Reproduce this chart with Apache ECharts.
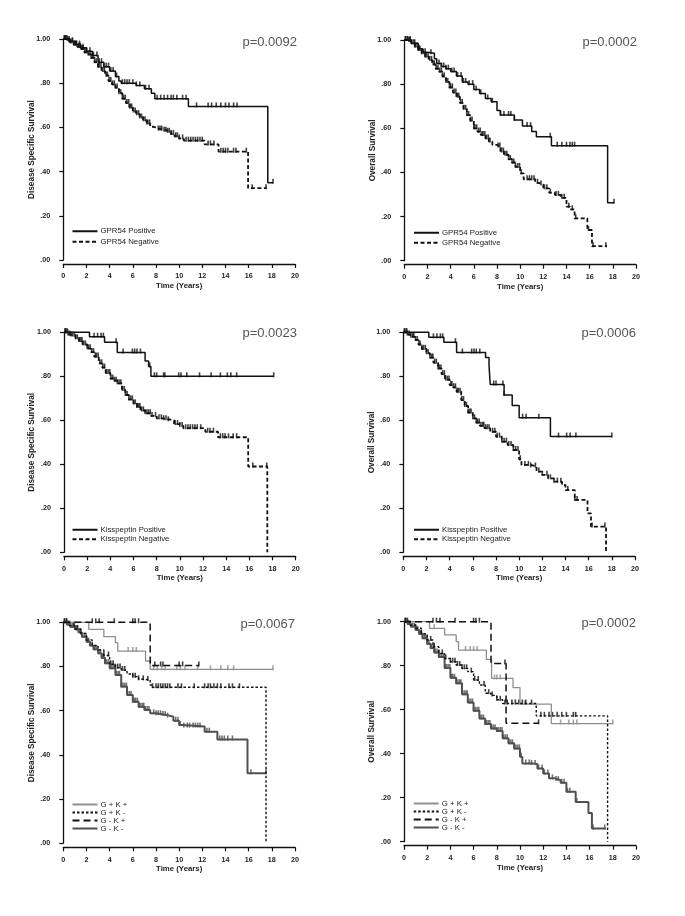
<!DOCTYPE html>
<html><head><meta charset="utf-8">
<script src="https://cdn.jsdelivr.net/npm/echarts@6/dist/echarts.min.js"></script>
<style>html,body{margin:0;padding:0;background:#fff}#c{width:685px;height:916px}</style>
</head><body><div id="c"></div><script>
// ---------- tick labels ----------
const xTickValues = [0,2,4,6,8,10,12,14,16,18,20];
const yTickLabels = ['.00','.20','.40','.60','.80','1.00'];
const xAxisTitle = 'Time (Years)';
const yTitles = ['Disease Specific Survival','Overall Survival','Disease Specific Survival','Overall Survival','Disease Specific Survival','Overall Survival'];
const pValues = ['p=0.0092','p=0.0002','p=0.0023','p=0.0006','p=0.0067','p=0.0002'];

// ---------- Panel 1: DSS, GPR54 ----------
const p1PosT = [0,0.5,1.0,1.5,2.0,2.5,3.0,3.5,4.0,4.5,4.8,5.0,6.3,7.0,7.6,7.9,10.8,17.65,18.1];
const p1PosS = [1,.99,.975,.96,.945,.925,.895,.875,.855,.83,.81,.80,.79,.775,.755,.73,.695,.35,.35];
const p1PosC = [0.1,0.3,0.5,0.8,1.1,1.4,1.7,2.0,2.3,2.6,2.9,3.1,3.3,3.5,3.7,3.9,4.1,4.3,4.6,5.1,5.3,5.5,5.7,6.0,6.3,6.6,7.1,7.4,8.1,8.4,8.7,9.0,9.3,9.5,9.8,10.3,10.6,11.5,12.5,12.8,13.2,13.6,14.0,14.3,14.7,15.0,18.1];
const p1NegT = [0,0.3,0.6,0.9,1.2,1.5,1.8,2.1,2.4,2.7,3.0,3.3,3.6,3.9,4.2,4.5,4.8,5.1,5.4,5.7,6.0,6.3,6.6,6.9,7.2,7.5,7.8,8.2,8.6,9.0,9.3,9.6,10.0,10.4,12.2,13.4,15.95,17.55];
const p1NegS = [1,.995,.985,.975,.965,.955,.94,.93,.915,.895,.875,.855,.835,.81,.795,.78,.755,.73,.71,.69,.672,.66,.645,.632,.618,.603,.595,.59,.585,.58,.57,.56,.55,.54,.523,.49,.325,.325];
const p1NegC = [0.1,0.2,0.35,0.5,0.6,0.75,0.9,1.05,1.15,1.3,1.45,1.6,1.7,1.85,2.0,2.15,2.3,2.4,2.55,2.7,2.85,3.0,3.1,3.25,3.4,3.55,3.7,3.8,3.95,4.1,4.25,4.4,4.5,4.65,4.8,4.95,5.1,5.2,5.35,5.5,5.65,5.8,5.9,6.05,6.2,6.35,6.5,6.6,6.75,6.9,7.05,7.2,7.3,7.45,8.2,8.35,8.5,8.7,8.85,9.0,9.15,9.3,9.5,9.7,9.85,10.0,10.3,10.6,10.8,11.0,11.2,11.4,11.6,11.8,12.0,12.5,12.7,13.0,13.6,13.8,14.0,14.2,14.7,14.9,15.8,16.3,17.5];

// ---------- Panel 2: OS, GPR54 ----------
const p2PosT = [0,0.6,1.2,1.6,2.0,2.6,2.8,3.2,3.6,4.0,4.5,5.0,5.5,6.0,6.5,7.0,7.5,8.0,8.3,9.5,10.2,11.0,11.4,12.7,17.55,18.1];
const p2PosS = [1,.985,.96,.945,.94,.915,.894,.88,.87,.857,.837,.81,.80,.776,.758,.735,.72,.68,.66,.637,.61,.585,.562,.521,.263,.263];
const p2PosC = [0.1,0.3,0.5,0.9,1.3,1.8,2.3,3.0,3.2,3.4,3.6,3.8,4.1,4.3,4.6,4.9,5.1,5.3,5.6,5.9,6.2,6.6,7.2,7.6,8.3,8.6,9.0,9.2,9.5,10.6,10.9,12.6,13.2,13.6,14.0,14.3,14.5,14.7,18.1];
const p2NegT = [0,0.3,0.6,0.9,1.2,1.5,1.8,2.1,2.4,2.7,3.0,3.3,3.6,3.9,4.2,4.5,4.8,5.1,5.4,5.7,6.0,6.3,6.6,7.0,7.3,7.6,8.0,8.3,8.6,9.0,9.3,9.6,10.0,10.3,11.3,11.6,12.0,12.5,13.0,13.5,14.0,14.3,14.7,15.8,16.2,17.5];
const p2NegS = [1,.995,.985,.97,.955,.94,.925,.91,.89,.87,.857,.835,.81,.785,.762,.743,.715,.688,.66,.635,.60,.585,.57,.554,.54,.525,.517,.495,.48,.46,.445,.425,.396,.369,.353,.345,.328,.308,.298,.285,.245,.233,.192,.139,.066,.066];
const p2NegC = [0.1,0.25,0.4,0.5,0.65,0.8,0.95,1.1,1.2,1.35,1.5,1.65,1.8,1.9,2.05,2.2,2.35,2.5,2.6,2.75,2.9,3.05,3.2,3.3,3.45,3.6,3.75,3.9,4.0,4.15,4.3,4.45,4.6,4.7,4.85,5.0,5.15,5.3,5.4,5.55,5.7,5.85,6.0,6.1,6.25,6.4,6.55,6.7,6.8,6.95,7.1,7.25,7.4,8.1,8.25,8.4,8.55,8.7,8.85,9.0,9.15,9.3,9.45,9.6,9.8,9.95,10.1,10.6,10.8,11.0,11.2,11.5,11.8,12.1,12.3,12.6,13.1,13.3,13.6,13.8,14.2,14.5,14.8,15.9,16.3,17.4];

// ---------- Panel 3: DSS, Kisspeptin ----------
const p3PosT = [0,2.2,3.5,4.6,7.0,7.3,7.5,18.1];
const p3PosS = [1,.98,.955,.908,.87,.845,.80,.80];
const p3PosC = [0.1,0.3,2.6,2.9,3.2,3.4,4.5,5.1,5.9,6.1,6.3,6.6,7.4,7.8,8.0,8.6,8.7,9.9,10.1,10.6,11.7,12.7,13.5,14.1,14.4,14.9,18.1];
const p3NegT = [0,0.3,0.6,1.0,1.3,1.6,2.0,2.3,2.6,3.0,3.3,3.6,4.0,4.3,4.6,5.0,5.3,5.6,6.0,6.3,6.6,7.0,7.5,8.0,8.5,9.0,9.5,10.0,10.3,12.2,13.3,15.9,17.55];
const p3NegS = [1,.99,.985,.973,.96,.945,.927,.91,.89,.859,.84,.815,.79,.78,.768,.738,.715,.695,.677,.66,.645,.632,.62,.609,.605,.60,.583,.574,.564,.548,.523,.39,0];
const p3NegC = [0.1,0.2,0.35,0.5,0.6,0.75,0.9,1.0,1.15,1.3,1.45,1.55,1.7,1.85,2.0,2.1,2.25,2.4,2.55,2.7,2.8,2.95,3.1,3.25,3.35,3.5,3.65,3.8,3.95,4.05,4.2,4.35,4.5,4.6,4.75,4.9,5.05,5.2,5.3,5.45,5.6,5.75,5.9,6.0,6.15,6.3,6.45,6.55,6.7,6.85,7.0,7.15,7.3,7.45,7.6,7.9,8.2,8.4,8.6,8.8,9.0,9.6,9.8,10.0,10.2,10.5,10.7,10.9,11.1,11.3,11.5,11.8,12.4,12.6,12.9,13.5,13.7,13.9,14.2,14.6,14.9,16.3,17.5];

// ---------- Panel 4: OS, Kisspeptin ----------
const p4PosT = [0,2.2,3.5,4.6,7.1,7.4,7.5,8.7,9.4,10.0,12.7,18.0];
const p4PosS = [1,.977,.955,.908,.886,.85,.763,.715,.667,.612,.526,.526];
const p4PosC = [0.1,0.3,2.6,2.9,3.2,3.4,4.5,5.1,5.9,6.1,6.3,6.6,7.8,8.0,8.6,8.7,10.3,10.6,11.7,13.4,14.1,14.4,14.9,18.0];
const p4NegT = [0,0.3,0.6,1.0,1.3,1.6,2.0,2.3,2.6,3.0,3.3,3.6,4.0,4.3,4.6,5.0,5.3,5.6,6.0,6.3,6.6,7.0,7.5,8.0,8.5,9.0,9.5,10.0,10.2,11.0,11.5,12.0,12.5,13.0,13.7,14.0,14.8,15.9,16.2,17.5];
const p4NegS = [1,.99,.98,.965,.945,.925,.905,.885,.862,.836,.81,.785,.76,.75,.73,.692,.665,.635,.609,.59,.575,.564,.548,.526,.503,.488,.465,.423,.397,.39,.367,.352,.336,.321,.306,.283,.238,.177,.117,0];
const p4NegC = [0.1,0.25,0.35,0.5,0.65,0.8,0.9,1.05,1.2,1.35,1.45,1.6,1.75,1.9,2.0,2.15,2.3,2.45,2.55,2.7,2.85,3.0,3.1,3.25,3.4,3.55,3.65,3.8,3.95,4.1,4.2,4.35,4.5,4.65,4.75,4.9,5.05,5.2,5.3,5.45,5.6,5.75,5.85,6.0,6.15,6.3,6.4,6.55,6.7,6.85,6.95,7.1,7.25,7.4,7.7,7.9,8.1,8.3,8.5,8.7,8.9,9.1,9.3,9.5,9.7,9.9,10.1,10.5,10.8,11.0,11.4,11.7,12.0,12.4,12.7,13.0,13.3,13.6,14.2,14.8,15.0,16.3,17.4];

// ---------- Panel 5: DSS, combinations ----------
const p5GpKpT = [0,2.2,3.5,4.5,4.7,7.1,7.5,18.1];
const p5GpKpS = [1,.968,.935,.908,.87,.825,.787,.787];
const p5GpKpC = [5.6,6.0,6.3,7.8,8.1,8.5,8.8,9.8,10.1,10.5,11.6,12.7,13.6,14.2,14.7,18.1];
const p5GpKmT = [0,0.5,1.0,1.5,2.0,2.5,3.0,3.5,4.0,4.5,5.0,5.5,6.0,6.5,7.0,7.5,7.7,17.5];
const p5GpKmS = [1,.985,.97,.95,.92,.895,.875,.85,.81,.795,.784,.766,.754,.742,.739,.716,.706,0];
const p5GpKmC = [0.9,1.2,1.5,2.0,3.5,3.9,4.1,4.3,4.5,4.7,4.9,5.1,5.3,6.0,6.2,6.5,6.9,7.3,7.7,8.0,8.2,8.4,8.6,8.8,9.0,9.2,9.9,10.2,11.3,12.2,12.5,12.7,13.0,13.3,13.6,14.3,14.6,15.2];
const p5GmKpT = [0,7.5,11.7];
const p5GmKpS = [1,.805,.805];
const p5GmKpC = [0.1,0.3,2.5,2.8,3.1,4.4,6.0,6.2,6.5,7.9,8.4,8.6,10.0,10.3,11.7];
const p5GmKmT = [0,0.3,0.6,1.0,1.3,1.6,2.0,2.3,2.6,3.0,3.3,3.6,4.0,4.5,5.0,5.5,6.0,6.5,7.0,7.5,8.0,8.5,9.0,9.5,10.0,10.3,12.2,13.3,15.9,17.5];
const p5GmKmS = [1,.99,.98,.968,.955,.935,.912,.895,.878,.86,.84,.815,.792,.762,.709,.671,.641,.618,.603,.588,.584,.58,.573,.555,.535,.528,.505,.47,.317,.317];
const p5GmKmC = [0.1,0.25,0.4,0.55,0.65,0.8,0.95,1.1,1.25,1.35,1.5,1.65,1.8,1.95,2.05,2.2,2.35,2.5,2.65,2.75,2.9,3.05,3.2,3.35,3.45,3.6,3.75,3.9,4.05,4.15,4.3,4.45,4.6,4.75,4.85,5.0,5.15,5.3,5.45,5.55,5.7,5.85,6.0,6.15,6.25,6.4,6.55,6.7,6.85,6.95,7.1,7.25,7.4,7.8,8.0,8.2,8.4,8.6,8.8,9.0,9.7,9.9,10.1,10.4,10.7,10.9,11.2,11.4,11.6,11.8,12.4,12.6,13.5,13.7,13.9,14.2,14.6,16.2,17.5];

// ---------- Panel 6: OS, combinations ----------
const p6GpKpT = [0,2.2,3.5,4.5,4.7,7.1,7.55,9.4,10.0,12.7,18.0];
const p6GpKpS = [1,.97,.94,.909,.871,.829,.742,.70,.625,.537,.537];
const p6GpKpC = [2.6,5.3,5.7,6.0,6.3,7.8,8.0,8.3,10.4,13.5,14.2,14.6,14.9,18.0];
const p6GpKmT = [0,0.5,1.0,1.5,2.0,2.5,3.0,3.5,4.0,4.5,5.0,5.5,6.0,6.5,7.0,7.5,8.0,8.5,11.4,17.55];
const p6GpKmS = [1,.985,.97,.945,.917,.886,.856,.833,.818,.803,.788,.773,.735,.712,.675,.665,.645,.628,.572,0];
const p6GpKmC = [1.0,1.5,2.0,2.3,2.6,3.0,3.3,3.6,4.0,4.2,4.4,4.6,4.8,5.0,5.2,5.4,5.8,6.1,6.4,6.9,7.3,7.6,8.0,8.3,8.7,8.9,9.3,9.6,9.9,10.2,10.5,11.0,11.8,12.1,12.5,12.8,13.2,13.6,14.0,14.6,14.8];
const p6GmKpT = [0,7.5,8.8,11.6];
const p6GmKpS = [1,.81,.538,.538];
const p6GmKpC = [0.1,0.3,2.5,2.8,3.1,4.4,6.0,6.2,6.5,8.7,11.6];
const p6GmKmT = [0,0.3,0.6,1.0,1.3,1.6,2.0,2.3,2.6,3.0,3.5,4.0,4.5,5.0,5.5,6.0,6.5,7.0,7.5,8.0,8.5,9.0,9.5,10.0,10.2,11.0,11.5,12.0,12.5,13.0,13.5,14.0,14.8,15.9,16.2,17.4];
const p6GmKmS = [1,.99,.978,.962,.945,.925,.9,.88,.86,.84,.79,.745,.72,.67,.633,.595,.56,.535,.515,.503,.47,.447,.424,.386,.356,.353,.333,.31,.288,.28,.268,.227,.18,.13,.06,.06];
const p6GmKmC = [0.1,0.2,0.35,0.5,0.6,0.75,0.9,1.05,1.2,1.3,1.45,1.6,1.75,1.85,2.0,2.15,2.3,2.4,2.55,2.7,2.85,3.0,3.1,3.25,3.4,3.55,3.65,3.8,3.95,4.1,4.2,4.35,4.5,4.65,4.8,4.9,5.05,5.2,5.35,5.45,5.6,5.75,5.9,6.0,6.15,6.3,6.45,6.55,6.7,6.85,7.0,7.1,7.25,7.4,7.55,7.7,7.85,8.0,8.15,8.3,8.45,8.6,8.75,8.9,9.05,9.2,9.35,9.5,9.65,9.8,9.95,10.1,10.5,10.8,11.0,11.3,11.6,11.9,12.1,12.4,12.8,13.1,13.3,13.6,13.8,14.1,14.3,14.9,16.3,17.3];

// ---------- styling ----------
const FONT = "'Liberation Sans', Arial, Helvetica, sans-serif";
const BLACK = '#111';
const GRAY = '#8e8e8e';
const DGRAY = '#505050';

const panels = [
  {grid:{left:63.3,top:39,width:231.7,height:221}, p:{right:388,top:36},
   legend:{left:71.5,top:227,gap:2,lh:8.5},
   curves:[
     {name:'GPR54 Negative',t:p1NegT,s:p1NegS,c:p1NegC,color:BLACK,w:1.8,dash:[4,2.5]},
     {name:'GPR54 Positive',t:p1PosT,s:p1PosS,c:p1PosC,color:BLACK,w:1.5,dash:'solid'}],
   order:['GPR54 Positive','GPR54 Negative']},
  {grid:{left:404.3,top:40,width:231.7,height:220.7}, p:{right:48,top:36},
   legend:{left:413,top:228.5,gap:1.5,lh:8.5},
   curves:[
     {name:'GPR54 Negative',t:p2NegT,s:p2NegS,c:p2NegC,color:BLACK,w:1.8,dash:[4,2.5]},
     {name:'GPR54 Positive',t:p2PosT,s:p2PosS,c:p2PosC,color:BLACK,w:1.5,dash:'solid'}],
   order:['GPR54 Positive','GPR54 Negative']},
  {grid:{left:64,top:332.3,width:231.7,height:220}, p:{right:388,top:327},
   legend:{left:71.5,top:525.5,gap:1,lh:8.5},
   curves:[
     {name:'Kisspeptin Negative',t:p3NegT,s:p3NegS,c:p3NegC,color:BLACK,w:1.8,dash:[4,2.5]},
     {name:'Kisspeptin Positive',t:p3PosT,s:p3PosS,c:p3PosC,color:BLACK,w:1.5,dash:'solid'}],
   order:['Kisspeptin Positive','Kisspeptin Negative']},
  {grid:{left:403.3,top:332.3,width:231.7,height:220}, p:{right:49,top:327},
   legend:{left:413,top:525.5,gap:1,lh:8.5},
   curves:[
     {name:'Kisspeptin Negative',t:p4NegT,s:p4NegS,c:p4NegC,color:BLACK,w:1.8,dash:[4,2.5]},
     {name:'Kisspeptin Positive',t:p4PosT,s:p4PosS,c:p4PosC,color:BLACK,w:1.5,dash:'solid'}],
   order:['Kisspeptin Positive','Kisspeptin Negative']},
  {grid:{left:63.3,top:622.3,width:231.7,height:221}, p:{right:390,top:618},
   legend:{left:71.5,top:800.5,gap:0,lh:7.3},
   curves:[
     {name:'G - K -',t:p5GmKmT,s:p5GmKmS,c:p5GmKmC,color:DGRAY,w:2.0,dash:'solid'},
     {name:'G + K +',t:p5GpKpT,s:p5GpKpS,c:p5GpKpC,color:GRAY,w:1.3,dash:'solid'},
     {name:'G + K -',t:p5GpKmT,s:p5GpKmS,c:p5GpKmC,color:BLACK,w:1.4,dash:[2.5,2]},
     {name:'G - K +',t:p5GmKpT,s:p5GmKpS,c:p5GmKpC,color:BLACK,w:1.5,dash:[7,4]}],
   order:['G + K +','G + K -','G - K +','G - K -']},
  {grid:{left:404,top:621.7,width:232,height:220}, p:{right:49,top:617},
   legend:{left:412.7,top:799.5,gap:0,lh:7.3},
   curves:[
     {name:'G - K -',t:p6GmKmT,s:p6GmKmS,c:p6GmKmC,color:DGRAY,w:2.0,dash:'solid'},
     {name:'G + K +',t:p6GpKpT,s:p6GpKpS,c:p6GpKpC,color:GRAY,w:1.3,dash:'solid'},
     {name:'G + K -',t:p6GpKmT,s:p6GpKmS,c:p6GpKmC,color:BLACK,w:1.4,dash:[2.5,2]},
     {name:'G - K +',t:p6GmKpT,s:p6GmKpS,c:p6GmKpC,color:BLACK,w:1.5,dash:[7,4]}],
   order:['G + K +','G + K -','G - K +','G - K -']}
];

function survAt(t, s, x) {
  let v = s[0];
  for (let i = 0; i < t.length; i++) { if (t[i] <= x) v = s[i]; else break; }
  return v;
}

const grids = [], xAxes = [], yAxes = [], series = [], titles = [], legends = [];
panels.forEach((pn, k) => {
  grids.push(Object.assign({containLabel:false}, pn.grid));
  xAxes.push({type:'value', gridIndex:k, min:xTickValues[0], max:xTickValues[xTickValues.length-1], interval:2,
    offset:4, name:xAxisTitle, nameLocation:'middle', nameGap:18, nameMoveOverlap:false,
    nameTextStyle:{fontFamily:FONT, fontWeight:'bold', fontSize:7.8, color:'#222'},
    axisLine:{show:true, onZero:false, lineStyle:{color:BLACK, width:1.3}},
    axisTick:{show:true, length:4, inside:false, lineStyle:{color:BLACK, width:1.2}},
    axisLabel:{fontFamily:FONT, fontWeight:'bold', fontSize:7.2, color:'#222', margin:9},
    splitLine:{show:false}});
  yAxes.push({type:'value', gridIndex:k, min:0, max:1, interval:0.2, offset:4,
    name:yTitles[k], nameLocation:'middle', nameGap:24, nameMoveOverlap:false,
    nameTextStyle:{fontFamily:FONT, fontWeight:'bold', fontSize:8.2, color:'#222'},
    axisLine:{show:true, lineStyle:{color:BLACK, width:1.3}},
    axisTick:{show:true, length:4, inside:false, lineStyle:{color:BLACK, width:1.2}},
    axisLabel:{fontFamily:FONT, fontWeight:'bold', fontSize:7.2, color:'#222', margin:9,
      formatter:(v)=>yTickLabels[Math.round(v/0.2)]},
    splitLine:{show:false}});
  titles.push({text:pValues[k], right:pn.p.right, top:pn.p.top, padding:0,
    textStyle:{fontFamily:FONT, fontWeight:'normal', fontSize:13, color:'#555'}});
  pn.curves.forEach(cv => {
    series.push({type:'line', name:cv.name, xAxisIndex:k, yAxisIndex:k, step:'end',
      symbol:'none', showSymbol:false, clip:false, animation:false, silent:true,
      data:cv.t.map((x,i)=>[x, cv.s[i]]),
      lineStyle:{color:cv.color, width:cv.w, type:cv.dash, cap:'butt'},
      itemStyle:{color:cv.color}});
    series.push({type:'scatter', name:cv.name + ' censored', xAxisIndex:k, yAxisIndex:k,
      symbol:'rect', symbolSize:[1.6,5], symbolOffset:[0,-1.5], clip:false, animation:false, silent:true,
      data:cv.c.map(x=>[x, survAt(cv.t, cv.s, x)]),
      itemStyle:{color:cv.color}});
  });
  legends.push({orient:'vertical', left:pn.legend.left, top:pn.legend.top, padding:0,
    itemGap:pn.legend.gap, itemWidth:25, itemHeight:6, selectedMode:false,
    itemStyle:{opacity:0},
    data:pn.order,
    textStyle:{fontFamily:FONT, fontSize:7.8, color:'#222', lineHeight:pn.legend.lh, padding:[0,0,0,-2]}});
});

const chart = echarts.init(document.getElementById('c'), null, {renderer:'canvas'});
chart.setOption({backgroundColor:'#fff', animation:false, title:titles, grid:grids,
  xAxis:xAxes, yAxis:yAxes, legend:legends, series:series});
</script></body></html>
